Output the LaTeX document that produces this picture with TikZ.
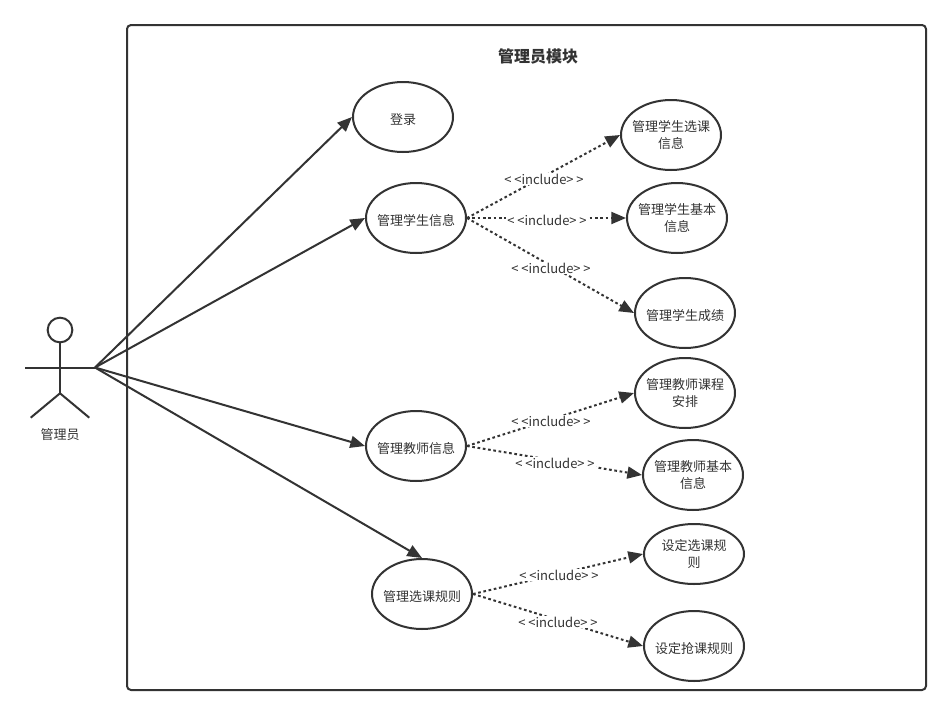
\documentclass[tikz,border=0pt]{standalone}
\usepackage{fontspec}
\setmainfont{Noto Sans CJK SC}
\usetikzlibrary{arrows.meta,shapes.geometric}
\definecolor{ink}{HTML}{333333}
\tikzset{
  uc/.style={ellipse,draw=ink,line width=1.5pt,fill=white,inner xsep=-24pt,inner ysep=-14pt,minimum width=75pt,minimum height=52.5pt,align=center,font=\fontsize{9.75pt}{12.75pt}\selectfont,text=ink,execute at begin node={\rule{0pt}{12pt}}},
  ucflat/.style={uc,minimum height=45pt},
  frame/.style={draw=ink,line width=1.5pt,rounded corners=3pt},
  limb/.style={draw=ink,line width=1.5pt},
  assoc/.style={draw=ink,line width=1.5pt,-{Triangle[length=11pt,width=9pt]}},
  incl/.style={draw=ink,line width=1.5pt,dash pattern=on 2pt off 2pt,-{Triangle[length=11pt,width=9pt]}},
  lab/.style={fill=white,inner xsep=1pt,inner ysep=0.5pt,font=\fontsize{9.75pt}{11pt}\selectfont,text=ink},
}
\newcommand{\incltext}{{<}\kern2pt{<}include{>}\kern2pt{>}}
\begin{document}
\begin{tikzpicture}[x=0.75pt,y=-0.75pt]
\useasboundingbox[fill=white] (0,0) rectangle (951,715);
\draw[frame] (127,25) rectangle (926,690);
\node[font=\fontsize{12pt}{14pt}\selectfont\bfseries,text=ink] (title) at (538,56) {管理员模块};
% actor
\node[circle,draw=ink,line width=1.5pt,inner sep=0pt,minimum size=18.5pt] (head) at (60,330) {};
\coordinate (hip) at (60,393.3);
\coordinate (handL) at (25,367.5);
\coordinate (actor) at (95,367.5);
\coordinate (footL) at (30.7,417.7);
\coordinate (footR) at (89.3,417.7);
\draw[limb] (head.south) -- (hip);
\draw[limb] (handL) -- (actor);
\draw[limb] (footL) -- (hip) -- (footR);
\node[font=\fontsize{9.75pt}{11pt}\selectfont,text=ink] (actorname) at (60,435) {管理员};
% use cases
\node[uc] (login) at (403,117) {登录};
\node[uc] (stu) at (416,218) {管理学生信息};
\node[uc] (tea) at (416,446) {管理教师信息};
\node[uc] (rule) at (422,594) {管理选课规则};
\node[uc] (s1) at (671,135) {管理学生选课\\信息};
\node[uc] (s2) at (677,218) {管理学生基本\\信息};
\node[uc] (s3) at (685,313) {管理学生成绩};
\node[uc] (t1) at (685,393) {管理教师课程\\安排};
\node[uc] (t2) at (693,475) {管理教师基本\\信息};
\node[ucflat] (r1) at (694,554) {设定选课规\\则};
\node[uc] (r2) at (694,646) {设定抢课规则};
% associations
\draw[assoc] (actor) -- (login.west);
\draw[assoc] (actor) -- (stu.west);
\draw[assoc] (actor) -- (tea.west);
\draw[assoc] (actor) -- (rule.north);
% includes
\draw[incl] (stu.east) -- (s1.west);
\draw[incl] (stu.east) -- (s2.west);
\draw[incl] (stu.east) -- (s3.west);
\draw[incl] (tea.east) -- (t1.west);
\draw[incl] (tea.east) -- (t2.west);
\draw[incl] (rule.east) -- (r1.west);
\draw[incl] (rule.east) -- (r2.west);
\node[lab] (l1) at (544,179) {\incltext};
\node[lab] (l2) at (547,220) {\incltext};
\node[lab] (l3) at (551,268) {\incltext};
\node[lab] (l4) at (551,421) {\incltext};
\node[lab] (l5) at (555,463) {\incltext};
\node[lab] (l6) at (559,575) {\incltext};
\node[lab] (l7) at (558,622) {\incltext};
\end{tikzpicture}
\end{document}
